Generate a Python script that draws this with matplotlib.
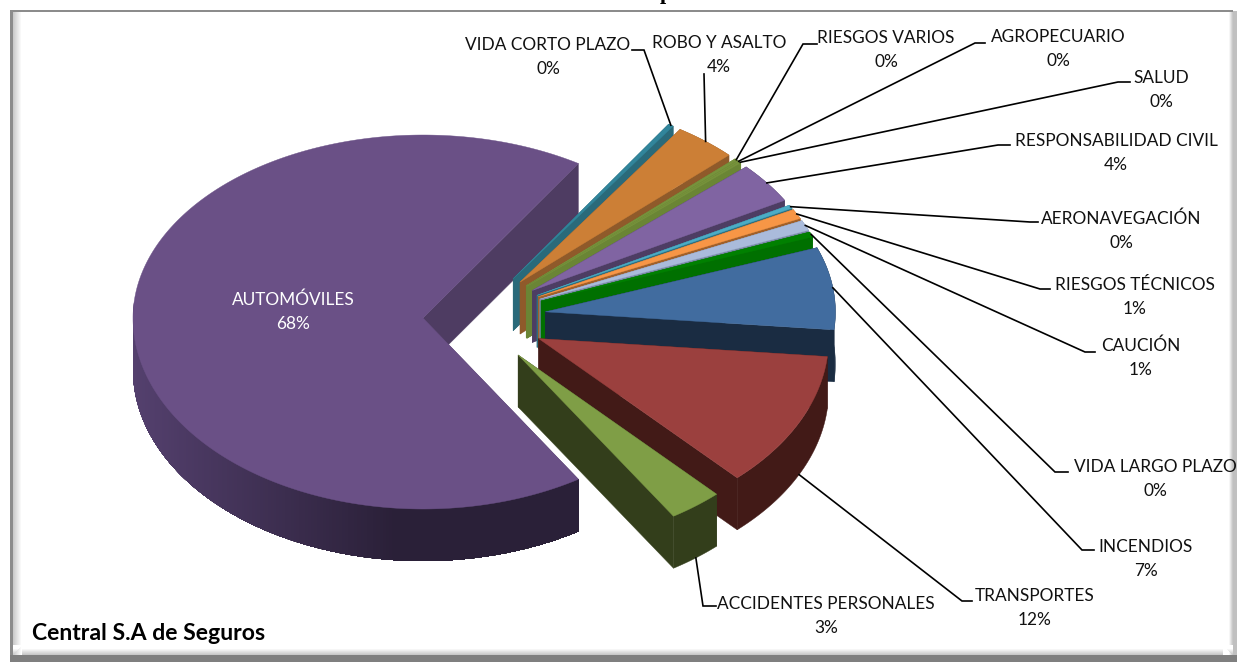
import numpy as np
import matplotlib.pyplot as plt
from matplotlib.patches import Polygon, Rectangle

plt.rcParams["font.family"] = ["Lato", "DejaVu Sans"]

# slices counter-clockwise from AUTOMOVILES
categories = ["AUTOMÓVILES", "ACCIDENTES PERSONALES", "TRANSPORTES", "INCENDIOS",
              "VIDA LARGO PLAZO", "CAUCIÓN", "RIESGOS TÉCNICOS", "AERONAVEGACIÓN",
              "RESPONSABILIDAD CIVIL", "SALUD", "AGROPECUARIO", "RIESGOS VARIOS",
              "ROBO Y ASALTO", "VIDA CORTO PLAZO"]
shares = [68.0, 3.0, 11.5, 7.2, 0.45, 0.9, 0.85, 0.3, 3.6, 0.1, 0.1, 0.2, 3.5, 0.3]
top_colors = ["#6a5086", "#7f9e46", "#9b403e", "#416c9f", "#008000", "#aabbdb", "#f79646",
              "#4bacc6", "#8064a2", "#77933c", "#77933c", "#77933c", "#cc7f36", "#31859b"]
wall_colors = ["#4e3c62", "#333e1b", "#421a17", "#1a2c42", "#007000", "#7a8aa8", "#a0602a",
               "#2e6f80", "#4d3d63", "#6a8535", "#6a8535", "#6a8535", "#8f5a2a", "#2a6a7a"]
label_x = [293, 826, 1035, 1146, 1155, 1141, 1135, 1121, 1116, 1161, 1058, 886, 719, 548]
label_y = [312, 616, 608, 559, 479, 358, 297, 231, 153, 90, 49, 50, 55, 57]
# leader: elbow point and the end next to the label
elbow_x = [None, 703, 962, 1082, 1055, 1085, 1040, 1030, 998, 1118, 975, 803, None, 644]
elbow_y = [None, 606, 601, 550, 472, 352, 289, 222, 145, 82, 43, 44, 74, 50]
end_x = [None, 716, 972, 1094, 1068, 1095, 1050, 1038, 1010, 1130, 985, 817, None, 632]

CX, CY = 474, 318
RX = 290
RY_BACK, RY_FRONT = 183, 191
DEPTH = 52
EXPLODE = 72
EXPLODE_FIRST = 51


def point(apex, t, drop=0):
    s = np.sin(t)
    ry = RY_BACK if s > 0 else RY_FRONT
    return (apex[0] + RX * np.cos(t), apex[1] - ry * s + drop)


def blend(c1, c2, f):
    a = np.array(plt.matplotlib.colors.to_rgb(c1))
    b = np.array(plt.matplotlib.colors.to_rgb(c2))
    return tuple(a + (b - a) * f)


fig = plt.figure(figsize=(12.37, 6.62), dpi=100)
ax = fig.add_axes([0, 0, 1, 1])
ax.set_xlim(0, 1237)
ax.set_ylim(662, 0)
ax.axis("off")

# chart frame with a soft bevel
for i in range(10):
    f = i / 9
    ax.add_patch(Rectangle((12 + i, 11), 1, 644, color=blend("#c4c4c4", "#ffffff", f), lw=0))
    ax.add_patch(Rectangle((1232 - i, 11), 1, 644, color=blend("#c8c8c8", "#ffffff", min(1, f * 2.5)), lw=0))
    ax.add_patch(Rectangle((12, 654 - i), 1221, 1, color=blend("#c8c8c8", "#ffffff", min(1, f * 1.5)), lw=0))
ax.add_patch(Rectangle((10, 9.5), 2.5, 646, color="#8c8c8c", lw=0))
ax.add_patch(Rectangle((10, 9.5), 1223, 2, color="#8c8c8c", lw=0))
ax.add_patch(Rectangle((1233, 11), 4, 644, color="#c0c0c0", lw=0))
ax.add_patch(Rectangle((10, 655), 1227, 7, color="#7f7f7f", lw=0, zorder=3))

# angles from the values
first = np.pi - np.radians(shares[0] * 3.6) / 2
ends = []
t = first
for s in shares:
    ends.append((t, t + np.radians(s * 3.6)))
    t = ends[-1][1]

rims = []
# back slices are painted first
order = [0] + list(range(len(shares) - 1, 0, -1))
for i in order:
    t0, t1 = ends[i]
    mid = (t0 + t1) / 2
    e = EXPLODE_FIRST if i == 0 else EXPLODE
    apex = (CX + e * np.cos(mid), CY - e * 0.65 * np.sin(mid))
    ts = np.linspace(t0, t1, max(int((t1 - t0) * 90), 3))
    arc = [point(apex, a) for a in ts]

    # radial walls
    for a in (t0, t1):
        p = point(apex, a)
        ax.add_patch(Polygon([apex, p, (p[0], p[1] + DEPTH), (apex[0], apex[1] + DEPTH)],
                             closed=True, fc=wall_colors[i], ec=wall_colors[i], lw=0.3))
    # outer wall
    if i == 0:
        # big slice gets darker towards the front, bands overlap to hide seams
        front = [a for a in ts if np.sin(a) < 0.1]
        for j in range(len(front) - 1):
            tail = [point(apex, b) for b in front[j:]]
            p = tail[0]
            f = np.clip((p[0] - 133) / 260, 0, 1)
            col = blend("#54406e", "#2a2038", f)
            ax.add_patch(Polygon(tail + [(q[0], q[1] + DEPTH) for q in tail[::-1]],
                                 closed=True, fc=col, ec="none"))
    else:
        rim = [point(apex, a) for a in ts]
        ax.add_patch(Polygon(rim + [(q[0], q[1] + DEPTH) for q in rim[::-1]], closed=True,
                             fc=wall_colors[i], ec=wall_colors[i], lw=0.3))
    ax.add_patch(Polygon([apex] + arc, closed=True, fc=top_colors[i], ec=top_colors[i], lw=0.3))
    rims.append((i, point(apex, mid, DEPTH if np.sin(mid) < -0.3 else 0)))

# leaders
for i, p in rims:
    if elbow_y[i] is None:
        continue
    xs = [p[0], elbow_x[i] if elbow_x[i] is not None else label_x[i] - 15]
    ys = [p[1], elbow_y[i]]
    if end_x[i] is not None:
        xs.append(end_x[i])
        ys.append(elbow_y[i])
    ax.plot(xs, ys, color="black", lw=1.2, solid_joinstyle="miter", zorder=4)

for i, name in enumerate(categories):
    ax.text(label_x[i], label_y[i], f"{name}\n{shares[i]:.0f}%", ha="center", va="center",
            fontsize=12.4, linespacing=1.65, color="white" if i == 0 else "#111111", zorder=5)

ax.text(32, 633, "Central S.A de Seguros", fontsize=16.6, fontweight="bold", va="center", color="black", zorder=5)
# title is cut off by the top of the image, only the descender shows
ax.text(666, -1, "p", family="Liberation Serif", fontsize=16, fontweight="bold", ha="center",
        va="baseline", color="black", clip_on=True)

fig.savefig("out.png", dpi=100)
